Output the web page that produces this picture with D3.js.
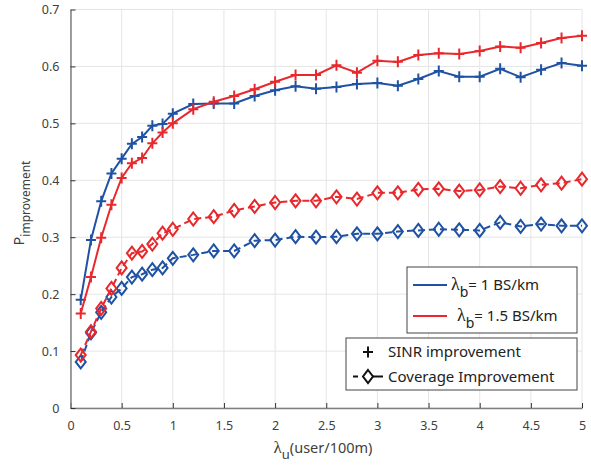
<!DOCTYPE html>
<html>
<head>
<meta charset="utf-8">
<script src="https://cdn.jsdelivr.net/npm/d3@7"></script>
<style>
  body { margin: 0; background: #fff; }
  text { font-family: "Noto Sans", sans-serif; }
  .greek { font-family: "Liberation Serif", "DejaVu Serif", serif; }
</style>
</head>
<body>
<svg id="chart"></svg>
<script>
// data
const lambdaU = [0.1, 0.2, 0.3, 0.4, 0.5, 0.6, 0.7, 0.8, 0.9, 1.0,
  1.2, 1.4, 1.6, 1.8, 2.0, 2.2, 2.4, 2.6, 2.8, 3.0,
  3.2, 3.4, 3.6, 3.8, 4.0, 4.2, 4.4, 4.6, 4.8, 5.0]

const sinrB1 = [0.190, 0.295, 0.363, 0.412, 0.438, 0.464, 0.476, 0.496, 0.499, 0.517,
  0.534, 0.535, 0.535, 0.548, 0.558, 0.565, 0.561, 0.564, 0.569, 0.571,
  0.566, 0.578, 0.592, 0.582, 0.582, 0.596, 0.581, 0.594, 0.606, 0.601]
const sinrB15 = [0.166, 0.230, 0.299, 0.357, 0.404, 0.430, 0.439, 0.465, 0.484, 0.500,
  0.525, 0.538, 0.548, 0.560, 0.573, 0.585, 0.585, 0.602, 0.589, 0.610,
  0.608, 0.620, 0.623, 0.622, 0.627, 0.635, 0.633, 0.641, 0.650, 0.654]
const covB1 = [0.081, 0.132, 0.168, 0.195, 0.210, 0.230, 0.235, 0.243, 0.246, 0.263,
  0.269, 0.276, 0.276, 0.294, 0.295, 0.301, 0.300, 0.301, 0.306, 0.306,
  0.310, 0.312, 0.314, 0.313, 0.312, 0.326, 0.319, 0.323, 0.320, 0.320]
const covB15 = [0.093, 0.134, 0.175, 0.210, 0.246, 0.272, 0.275, 0.288, 0.307, 0.314,
  0.332, 0.336, 0.347, 0.354, 0.361, 0.364, 0.364, 0.371, 0.367, 0.378,
  0.378, 0.384, 0.385, 0.381, 0.383, 0.389, 0.386, 0.392, 0.395, 0.402]

const xTicks = [0, 0.5, 1, 1.5, 2, 2.5, 3, 3.5, 4, 4.5, 5]
const yTicks = [0, 0.1, 0.2, 0.3, 0.4, 0.5, 0.6, 0.7]

const width = 591
const height = 466
const margin = { top: 9.5, right: 9, bottom: 58, left: 70.5 }

const blue = '#1f52a2'
const red = '#e8282c'
const axisColour = '#7f7f7f'
const textColour = '#404040'
const gridColour = '#e5e5e5'

const svg = d3.select('#chart')
  .attr('width', width)
  .attr('height', height)

/// Scales ///
const xScale = d3.scaleLinear()
  .domain([0, 5])
  .range([margin.left, width - margin.right])
const yScale = d3.scaleLinear()
  .domain([0, 0.7])
  .range([height - margin.bottom, margin.top])

/// Grid ///
const grid = svg.append('g')
grid.selectAll('.gx').data(xTicks).join('line')
  .attr('x1', d => xScale(d)).attr('x2', d => xScale(d))
  .attr('y1', yScale(0)).attr('y2', yScale(0.7))
  .attr('stroke', gridColour).attr('stroke-width', 1)
grid.selectAll('.gy').data(yTicks).join('line')
  .attr('x1', xScale(0)).attr('x2', xScale(5))
  .attr('y1', d => yScale(d)).attr('y2', d => yScale(d))
  .attr('stroke', gridColour).attr('stroke-width', 1)

/// Axes (MATLAB style, ticks pointing inwards) ///
const xAxis = g => g
  .attr('transform', `translate(0, ${yScale(0)})`)
  .call(d3.axisBottom(xScale)
    .tickValues(xTicks)
    .tickSizeInner(-5)
    .tickSizeOuter(0)
    .tickPadding(13)
    .tickFormat(d3.format('~g')))
  .call(g => g.select('.domain').attr('stroke', axisColour).attr('stroke-width', 1.5))
  .call(g => g.selectAll('.tick line').attr('stroke', '#333').attr('stroke-width', 1))
  .call(g => g.selectAll('text')
    .attr('font-size', '12.5px')
    .attr('fill', textColour))

const yAxis = g => g
  .attr('transform', `translate(${xScale(0)}, 0)`)
  .call(d3.axisLeft(yScale)
    .tickValues(yTicks)
    .tickSizeInner(-5)
    .tickSizeOuter(0)
    .tickPadding(11)
    .tickFormat(d3.format('~g')))
  .call(g => g.select('.domain').attr('stroke', axisColour).attr('stroke-width', 1.5))
  .call(g => g.selectAll('.tick line').attr('stroke', '#333').attr('stroke-width', 1))
  .call(g => g.selectAll('text')
    .attr('font-size', '12.5px')
    .attr('fill', textColour))

svg.append('g').call(xAxis)
svg.append('g').call(yAxis)

/// Series ///
const series = [
  { values: sinrB1, colour: blue, dashed: false, marker: 'plus' },
  { values: sinrB15, colour: red, dashed: false, marker: 'plus' },
  { values: covB1, colour: blue, dashed: true, marker: 'diamond' },
  { values: covB15, colour: red, dashed: true, marker: 'diamond' }
]

const line = d3.line()
  .x(d => xScale(d[0]))
  .y(d => yScale(d[1]))

const plusPath = 'M-5,0H5M0,-5.5V5.5'
const diamondPath = 'M0,-6.5L5,0L0,6.5L-5,0Z'

const plotG = svg.append('g')
series.forEach(s => {
  const pts = lambdaU.map((x, i) => [x, s.values[i]])
  plotG.append('path')
    .datum(pts)
    .attr('d', line)
    .attr('fill', 'none')
    .attr('stroke', s.colour)
    .attr('stroke-width', 2)
    .attr('stroke-dasharray', s.dashed ? '7 4' : null)

  plotG.selectAll(null)
    .data(pts)
    .join('path')
    .attr('transform', d => `translate(${xScale(d[0])}, ${yScale(d[1])})`)
    .attr('d', s.marker === 'plus' ? plusPath : diamondPath)
    .attr('fill', 'none')
    .attr('stroke', s.colour)
    .attr('stroke-width', 2)
})

/// Axis labels ///
const xLabel = svg.append('text')
  .attr('x', 323)
  .attr('y', 453)
  .attr('text-anchor', 'middle')
  .attr('font-size', '14.5px')
  .attr('fill', textColour)
xLabel.append('tspan').attr('class', 'greek').attr('font-size', '17px').text('λ')
xLabel.append('tspan').attr('dy', 6).attr('font-size', '13px').text('u')
xLabel.append('tspan').attr('dy', -6).text('(user/100m)')

const yLabel = svg.append('text')
  .attr('transform', `translate(24, 203) rotate(-90)`)
  .attr('text-anchor', 'middle')
  .attr('font-size', '14.5px')
  .attr('fill', textColour)
yLabel.append('tspan').text('P')
yLabel.append('tspan').attr('dy', 6).attr('font-size', '12px').text('improvement')

/// Legends ///
const legendColour = [
  { label: '1 BS/km', colour: blue, indent: 0 },
  { label: '1.5 BS/km', colour: red, indent: 6 }
]
const leg1 = svg.append('g')
leg1.append('rect')
  .attr('x', 407).attr('y', 267).attr('width', 170).attr('height', 66)
  .attr('fill', '#fff').attr('stroke', '#444').attr('stroke-width', 1)
legendColour.forEach((d, i) => {
  const y = 285 + i * 31
  leg1.append('line')
    .attr('x1', 413).attr('x2', 447).attr('y1', y).attr('y2', y)
    .attr('stroke', d.colour).attr('stroke-width', 2)
  const t = leg1.append('text')
    .attr('x', 451 + d.indent).attr('y', y + 5)
    .attr('font-size', '15px').attr('fill', '#222')
  t.append('tspan').attr('class', 'greek').attr('font-size', '18px').text('λ')
  t.append('tspan').attr('dy', 7).attr('font-size', '14px').text('b')
  t.append('tspan').attr('dy', -7).text('= ' + d.label)
})

const legendStyle = ['SINR improvement', 'Coverage Improvement']
const leg2 = svg.append('g')
leg2.append('rect')
  .attr('x', 346).attr('y', 338).attr('width', 231).attr('height', 52)
  .attr('fill', '#fff').attr('stroke', '#444').attr('stroke-width', 1)
legendStyle.forEach((label, i) => {
  const y = 352 + i * 24.5
  if (i === 0) {
    leg2.append('path')
      .attr('transform', `translate(368, ${y})`)
      .attr('d', plusPath).attr('stroke', '#111').attr('stroke-width', 2).attr('fill', 'none')
  } else {
    leg2.append('line')
      .attr('x1', 353).attr('x2', 383).attr('y1', y).attr('y2', y)
      .attr('stroke', '#111').attr('stroke-width', 2).attr('stroke-dasharray', '5 15 10')
    leg2.append('path')
      .attr('transform', `translate(368, ${y})`)
      .attr('d', diamondPath).attr('stroke', '#111').attr('stroke-width', 2).attr('fill', '#fff')
  }
  leg2.append('text')
    .attr('x', 388).attr('y', y + 5)
    .attr('font-size', '15px').attr('fill', '#222')
    .text(label)
})
</script>
</body>
</html>
